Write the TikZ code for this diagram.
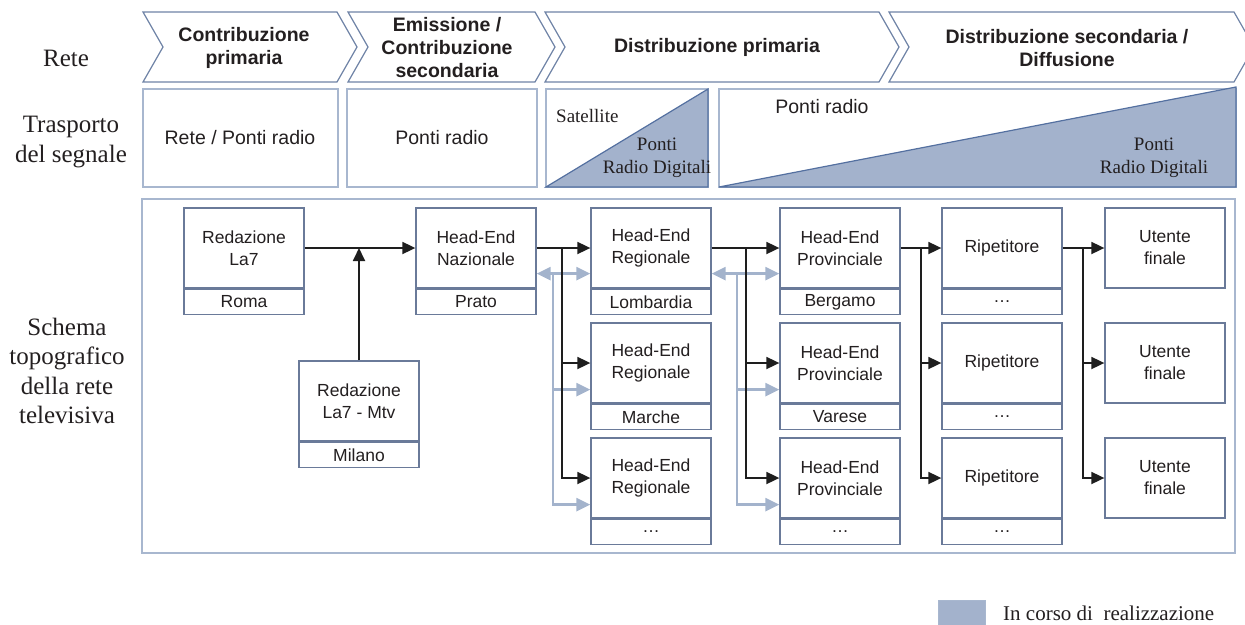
\documentclass[tikz,border=0pt]{standalone}
\usepackage{fontspec}
\setmainfont{Liberation Serif}
\setsansfont{Liberation Sans}
\usetikzlibrary{arrows.meta}

\definecolor{txt}{HTML}{231F20}
\definecolor{chevline}{HTML}{6F83A6}
\definecolor{lightline}{HTML}{A8B7CF}
\definecolor{nodeline}{HTML}{6A7A99}
\definecolor{fillblue}{HTML}{A3B2CC}
\definecolor{triedge}{HTML}{5470A0}
\definecolor{garrow}{HTML}{A3B3CC}
\definecolor{blk}{HTML}{1E1E1E}

\tikzset{
  rowlabel/.style={font=\fontsize{25}{29.5}\selectfont, align=center, text=txt, inner sep=0pt},
  chevtext/.style={font=\sffamily\bfseries\fontsize{19.5}{23}\selectfont, align=center, text=txt, inner sep=0pt},
  chevron/.style={draw=chevline, line width=1.2pt, fill=white, line join=miter},
  frame/.style={draw=lightline, line width=1.6pt},
  trsans/.style={font=\sffamily\fontsize{19.5}{23}\selectfont, text=txt, inner sep=0pt},
  trserif/.style={font=\fontsize{19}{23}\selectfont, align=center, text=txt, inner sep=0pt},
  wedge/.style={fill=fillblue, draw=triedge, line width=1.2pt, line join=miter},
  mainbox/.style={draw=nodeline, line width=1.3pt, fill=white, minimum width=120pt,
    minimum height=80pt, inner sep=0pt, align=center, text=txt,
    font=\sffamily\fontsize{17.5}{22}\selectfont},
  subbox/.style={draw=nodeline, line width=1.3pt, fill=white, minimum width=120pt,
    minimum height=25pt, inner sep=0pt, text=txt,
    font=\sffamily\fontsize{17.5}{22}\selectfont},
  link/.style={draw=blk, line width=1.8pt, -{Triangle[length=13pt,width=12pt]}},
  glink/.style={draw=garrow, line width=2.6pt, -{Triangle[length=14pt,width=13pt]}},
  gboth/.style={draw=garrow, line width=2.6pt,
    {Triangle[length=14pt,width=13pt]}-{Triangle[length=14pt,width=13pt]}},
  legendtext/.style={font=\fontsize{21}{25}\selectfont, text=txt, inner sep=0pt}
}

\begin{document}
\begin{tikzpicture}[x=1pt,y=-1pt]
\useasboundingbox (0,0) rectangle (1245,624);

% ---------- row labels ----------
\node[rowlabel] (lblrete) at (66,58) {Rete};
\node[rowlabel] (lbltrasp) at (71,142) {Trasporto\\del segnale};
\node[rowlabel] (lblschema) at (67,371) {Schema\\topografico\\della rete\\televisiva};

% ---------- phase chevrons ----------
\draw[chevron] (143,12) -- (337,12) -- (357,47) -- (337,82) -- (143,82) -- (163,47) -- cycle;
\draw[chevron] (348,12) -- (535,12) -- (555,47) -- (535,82) -- (348,82) -- (368,47) -- cycle;
\draw[chevron] (545,12) -- (879,12) -- (899,47) -- (879,82) -- (545,82) -- (565,47) -- cycle;
\draw[chevron] (889,12) -- (1234,12) -- (1254,47) -- (1234,82) -- (889,82) -- (909,47) -- cycle;

\node[chevtext] (ph1) at (244,48) {Contribuzione\\primaria};
\node[chevtext] (ph2) at (447,48) {Emissione /\\Contribuzione\\secondaria};
\node[chevtext] (ph3) at (717,47) {Distribuzione primaria};
\node[chevtext] (ph4) at (1067,48) {Distribuzione secondaria /\\Diffusione};

% ---------- signal transport ----------
\draw[frame] (143,89) rectangle (338,187);
\draw[frame] (347,89) rectangle (537,187);
\draw[frame] (546,89) rectangle (708,187);
\draw[frame] (719,89) rectangle (1236,187);
\draw[wedge] (546,187) -- (708,89) -- (708,187) -- cycle;
\draw[wedge] (719,187) -- (1236,87) -- (1236,187) -- cycle;

\node[trsans] (tr1) at (240,138) {Rete / Ponti radio};
\node[trsans] (tr2) at (442,138) {Ponti radio};
\node[trserif, anchor=west] (tr3a) at (556,116) {Satellite};
\node[trserif] (tr3b) at (657,158) {Ponti\\Radio Digitali};
\node[trsans] (tr4a) at (822,107) {Ponti radio};
\node[trserif] (tr4b) at (1154,158) {Ponti\\Radio Digitali};

% ---------- network layout ----------
\draw[frame] (142,199) rectangle (1235,553);

% editorial offices
\node[mainbox] (roma) at (244,248) {Redazione\\La7};
\node[subbox, anchor=north] (roma-s) at (roma.south) {Roma};
\node[mainbox] (milano) at (359,401) {Redazione\\La7 - Mtv};
\node[subbox, anchor=north] (milano-s) at (milano.south) {Milano};

% national head-end
\node[mainbox] (naz) at (476,248) {Head-End\\Nazionale};
\node[subbox, anchor=north] (naz-s) at (naz.south) {Prato};

% regional head-ends
\node[mainbox] (reg1) at (651,248) {Head-End\\Regionale};
\node[subbox, anchor=north] (reg1-s) at (reg1.south) {Lombardia};
\node[mainbox] (reg2) at (651,363) {Head-End\\Regionale};
\node[subbox, anchor=north] (reg2-s) at (reg2.south) {Marche};
\node[mainbox] (reg3) at (651,478) {Head-End\\Regionale};
\node[subbox, anchor=north] (reg3-s) at (reg3.south) {…};

% provincial head-ends
\node[mainbox] (prov1) at (840,248) {Head-End\\Provinciale};
\node[subbox, anchor=north] (prov1-s) at (prov1.south) {Bergamo};
\node[mainbox] (prov2) at (840,363) {Head-End\\Provinciale};
\node[subbox, anchor=north] (prov2-s) at (prov2.south) {Varese};
\node[mainbox] (prov3) at (840,478) {Head-End\\Provinciale};
\node[subbox, anchor=north] (prov3-s) at (prov3.south) {…};

% repeaters
\node[mainbox] (rip1) at (1002,248) {Ripetitore};
\node[subbox, anchor=north] (rip1-s) at (rip1.south) {…};
\node[mainbox] (rip2) at (1002,363) {Ripetitore};
\node[subbox, anchor=north] (rip2-s) at (rip2.south) {…};
\node[mainbox] (rip3) at (1002,478) {Ripetitore};
\node[subbox, anchor=north] (rip3-s) at (rip3.south) {…};

% end users
\node[mainbox] (ut1) at (1165,248) {Utente\\finale};
\node[mainbox] (ut2) at (1165,363) {Utente\\finale};
\node[mainbox] (ut3) at (1165,478) {Utente\\finale};

% branch points
\coordinate (jmil) at (359,248);
\coordinate (gnaz) at (553,273);
\coordinate (bnaz) at (562,248);
\coordinate (greg) at (737,273);
\coordinate (breg) at (746,248);
\coordinate (bprov) at (921,248);
\coordinate (brip) at (1083,248);

% digital radio links (grey)
\draw[gboth] ([yshift=15pt]naz.south east) -- ([yshift=15pt]reg1.south west);
\draw[glink] (gnaz) |- ([yshift=14pt]reg2.south west);
\draw[glink] (gnaz) |- ([yshift=14pt]reg3.south west);

\draw[gboth] ([yshift=15pt]reg1.south east) -- ([yshift=15pt]prov1.south west);
\draw[glink] (greg) |- ([yshift=14pt]prov2.south west);
\draw[glink] (greg) |- ([yshift=14pt]prov3.south west);

% main signal path (black)
\draw[link] (roma) -- (naz);
\draw[link] (milano) -- (jmil);

\draw[link] (naz) -- (reg1);
\draw[link] (bnaz) |- (reg2.west);
\draw[link] (bnaz) |- (reg3.west);

\draw[link] (reg1) -- (prov1);
\draw[link] (breg) |- (prov2.west);
\draw[link] (breg) |- (prov3.west);

\draw[link] (prov1) -- (rip1);
\draw[link] (bprov) |- (rip2.west);
\draw[link] (bprov) |- (rip3.west);

\draw[link] (rip1) -- (ut1);
\draw[link] (brip) |- (ut2.west);
\draw[link] (brip) |- (ut3.west);

% ---------- legend ----------
\node[draw=lightline, line width=1.2pt, fill=fillblue, minimum width=47pt,
      minimum height=30pt, inner sep=0pt, anchor=north west] (legbox) at (938,600) {};
\node[legendtext, anchor=west] (legtxt) at (1003,613) {In corso di\ \ realizzazione};
\end{tikzpicture}
\end{document}
